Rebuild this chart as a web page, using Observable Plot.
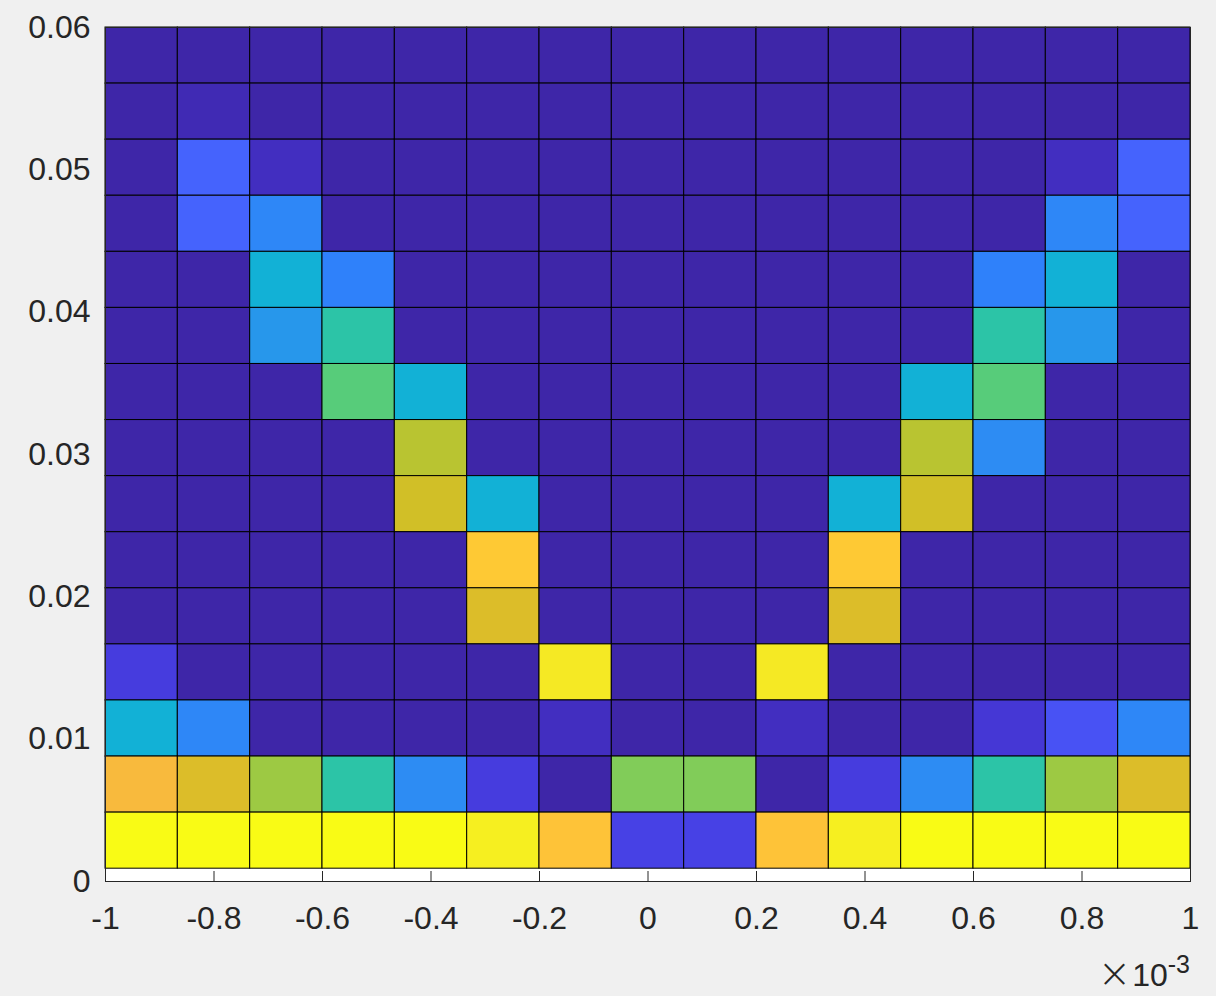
<!DOCTYPE html>
<html><head><meta charset="utf-8">
<script src="https://cdn.jsdelivr.net/npm/d3@7"></script>
<script src="https://cdn.jsdelivr.net/npm/@observablehq/plot@0.6"></script>
<style>
html,body{margin:0;padding:0;background:#f0f0f0;overflow:hidden;}
#wrap{position:relative;width:1216px;height:996px;}
#exp{position:absolute;right:26px;top:956px;font-family:"Liberation Sans",Arial,sans-serif;font-size:32px;color:#262626;line-height:32px;white-space:nowrap;}
#exp .t{font-size:40px;font-family:"DejaVu Sans",sans-serif;font-weight:200;position:relative;top:1px;margin-right:1px;}
#exp sup{font-size:25px;position:relative;top:-13px;vertical-align:baseline;}
</style></head>
<body><div id="wrap"><div id="exp"><span class="t">×</span>10<sup>-3</sup></div></div>
<script>
// bin edges (x in units of 1e-3)
const xEdges = [-1, -0.8667, -0.7333, -0.6, -0.4667, -0.3333, -0.2, -0.0667, 0.0667, 0.2, 0.3333, 0.4667, 0.6, 0.7333, 0.8667, 1];
const yEdges = [0.0009, 0.00484, 0.00878, 0.01272, 0.01666, 0.0206, 0.02454, 0.02848, 0.03242, 0.03636, 0.0403, 0.04424, 0.04818, 0.05212, 0.05606, 0.06];
// counts, top row first
const counts = [
  [0,0,0,0,0,0,0,0,0,0,0,0,0,0,0],
  [0,1,0,0,0,0,0,0,0,0,0,0,0,0,0],
  [0,12,2,0,0,0,0,0,0,0,0,0,0,2,12],
  [0,12,18,0,0,0,0,0,0,0,0,0,0,18,12],
  [0,0,27,17,0,0,0,0,0,0,0,0,17,27,0],
  [0,0,21,34,0,0,0,0,0,0,0,0,34,21,0],
  [0,0,0,39,27,0,0,0,0,0,0,27,39,0,0],
  [0,0,0,0,46,0,0,0,0,0,0,46,19,0,0],
  [0,0,0,0,48,27,0,0,0,0,27,48,0,0,0],
  [0,0,0,0,0,55,0,0,0,0,55,0,0,0,0],
  [0,0,0,0,0,49,0,0,0,0,49,0,0,0,0],
  [5,0,0,0,0,0,60,0,0,60,0,0,0,0,0],
  [27,18,0,0,0,0,2,0,0,2,0,0,4,9,18],
  [52,49,44,34,19,5,0,42,42,0,5,19,34,44,49],
  [63,63,63,63,63,61,54,6,6,54,61,63,63,63,63]
];
const xTicks = [-1, -0.8, -0.6, -0.4, -0.2, 0, 0.2, 0.4, 0.6, 0.8, 1];
const yTicks = [0, 0.01, 0.02, 0.03, 0.04, 0.05, 0.06];

const parula = [
[0.2422,0.1504,0.6603],[0.2504,0.1650,0.7076],[0.2578,0.1818,0.7511],[0.2647,0.1978,0.7952],
[0.2706,0.2147,0.8364],[0.2751,0.2342,0.8710],[0.2783,0.2559,0.8991],[0.2803,0.2782,0.9221],
[0.2813,0.3006,0.9414],[0.2810,0.3228,0.9579],[0.2795,0.3447,0.9717],[0.2760,0.3667,0.9829],
[0.2699,0.3892,0.9906],[0.2602,0.4123,0.9952],[0.2440,0.4358,0.9988],[0.2206,0.4603,0.9973],
[0.1963,0.4847,0.9892],[0.1834,0.5074,0.9798],[0.1786,0.5289,0.9682],[0.1764,0.5499,0.9520],
[0.1687,0.5703,0.9359],[0.1540,0.5902,0.9218],[0.1460,0.6091,0.9079],[0.1380,0.6276,0.8973],
[0.1248,0.6459,0.8883],[0.1113,0.6635,0.8763],[0.0952,0.6798,0.8598],[0.0689,0.6948,0.8394],
[0.0297,0.7082,0.8163],[0.0036,0.7203,0.7917],[0.0067,0.7312,0.7660],[0.0433,0.7411,0.7394],
[0.0964,0.7500,0.7120],[0.1408,0.7584,0.6842],[0.1717,0.7670,0.6554],[0.1938,0.7758,0.6251],
[0.2161,0.7843,0.5923],[0.2470,0.7918,0.5567],[0.2906,0.7973,0.5188],[0.3406,0.8008,0.4789],
[0.3909,0.8029,0.4354],[0.4456,0.8024,0.3909],[0.5044,0.7993,0.3480],[0.5616,0.7942,0.3045],
[0.6174,0.7876,0.2612],[0.6720,0.7793,0.2227],[0.7242,0.7698,0.1910],[0.7738,0.7598,0.1646],
[0.8203,0.7498,0.1535],[0.8634,0.7406,0.1596],[0.9035,0.7330,0.1774],[0.9393,0.7288,0.2100],
[0.9728,0.7298,0.2394],[0.9956,0.7434,0.2371],[0.9970,0.7659,0.2199],[0.9952,0.7893,0.2028],
[0.9892,0.8136,0.1885],[0.9786,0.8386,0.1766],[0.9676,0.8639,0.1643],[0.9610,0.8890,0.1537],
[0.9597,0.9135,0.1423],[0.9628,0.9373,0.1265],[0.9691,0.9606,0.1064],[0.9769,0.9839,0.0805]
].map(([r,g,b]) => d3.rgb(r*255, g*255, b*255).formatHex());

const cells = [];
counts.forEach((row, r) => {
  const yi = counts.length - 1 - r;
  row.forEach((v, c) => cells.push({x1: xEdges[c], x2: xEdges[c+1], y1: yEdges[yi], y2: yEdges[yi+1], v}));
});

const W = 1216, H = 996;
const mT = 27, mB = 115, mL = 105, mR = 26;
const frameH = H - mT - mB;

const chart = Plot.plot({
  width: W, height: H,
  marginTop: mT, marginBottom: mB, marginLeft: mL, marginRight: mR,
  style: {background: "transparent", fontFamily: '"Liberation Sans", Arial, sans-serif', fontSize: "32px", color: "#262626", overflow: "visible"},
  x: {domain: [-1, 1]},
  y: {domain: [0, 0.06]},
  color: {type: "linear", domain: [0, 63], interpolate: d3.piecewise(d3.interpolateRgb, parula), clamp: true},
  marks: [
    Plot.frame({fill: "white", stroke: "none"}),
    Plot.rect(cells, {x1: "x1", x2: "x2", y1: "y1", y2: "y2", fill: "v", stroke: "black", strokeWidth: 1}),
    Plot.frame({stroke: "#262626", strokeWidth: 1}),
    Plot.tickX(xTicks, {x: d => d, stroke: "#262626", strokeWidth: 1, insetTop: frameH - 10}),
    Plot.axisX({ticks: xTicks, tickFormat: d => String(d), tickSize: 0, tickPadding: 25, label: null}),
    Plot.axisY({ticks: yTicks, tickFormat: d => String(d), tickSize: 0, tickPadding: 15, label: null})
  ]
});
document.getElementById("wrap").prepend(chart);
</script>
</body></html>
